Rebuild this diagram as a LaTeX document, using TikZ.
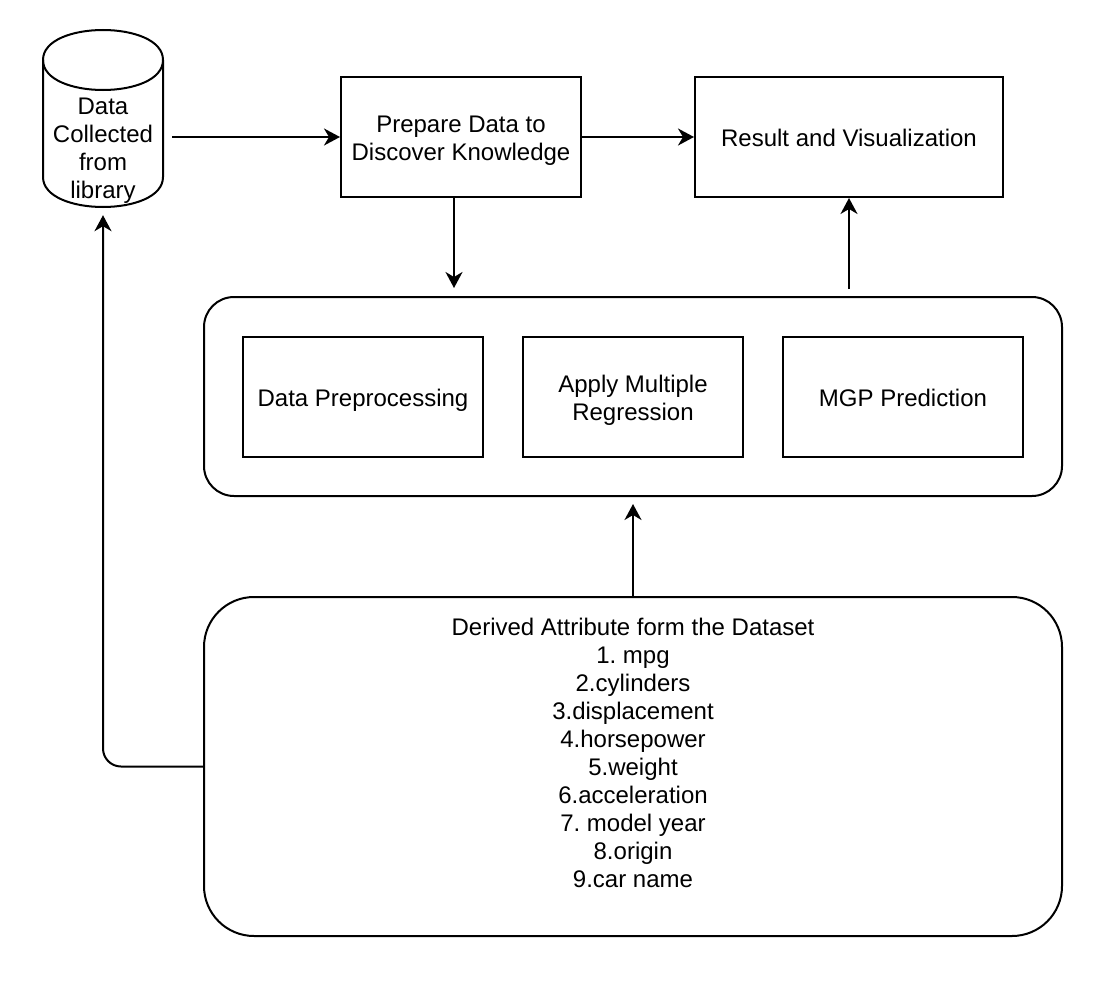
\documentclass[tikz,border=0pt]{standalone}
\usepackage{fontspec}
\setmainfont{Liberation Sans}
\usetikzlibrary{arrows.meta}
\frenchspacing
\newcommand{\zs}{\rule[-6pt]{0pt}{30pt}}
\begin{document}
\begin{tikzpicture}[x=1pt,y=-1pt,
  every node/.style={font={\fontsize{24}{28}\selectfont\lineskiplimit=-100pt\frenchspacing}, align=center, inner sep=0pt},
  box/.style={draw, line width=2pt, minimum width=240pt, minimum height=120pt},
  rbox/.style={draw, line width=2pt, rounded corners=#1},
  arr/.style={line width=2pt, -{Stealth[length=16pt,width=17pt,inset=5pt]}}]
\useasboundingbox (0,0) rectangle (1100,998);

% database cylinder
\node[minimum width=120pt, minimum height=177pt] (db) at (103,118.5) {};
\draw[line width=2pt, line join=round]
  (43,60) .. controls (43,20) and (163,20) .. (163,60)
  -- (163,177) .. controls (163,217) and (43,217) .. (43,177) -- cycle;
\draw[line width=2pt] (43,60) .. controls (43,100) and (163,100) .. (163,60);
\node (dbtext) at (103,147) {\zs Data\\\zs Collected\\\zs from\\\zs library};

% top boxes
\node[box] (prep) at (461,137) {\zs Prepare Data to\\\zs Discover Knowledge};
\node[box, minimum width=308pt] (res) at (849,137) {\zs Result and Visualization};

% container
\node[rbox=30pt, minimum width=858pt, minimum height=199pt] (cont) at (633,396.5) {};
\node[box] (pre) at (363,397) {\zs Data Preprocessing};
\node[box, minimum width=220pt] (reg) at (633,397) {\zs Apply Multiple\\\zs Regression};
\node[box] (mgp) at (903,397) {\zs MGP Prediction};

% attributes
\node[rbox=50pt, minimum width=858pt, minimum height=339pt] (attr) at (633,766.5)
  {\zs Derived Attribute form the Dataset\\\zs 1. mpg\\\zs 2.cylinders\\\zs 3.displacement\\\zs 4.horsepower\\\zs 5.weight\\\zs 6.acceleration\\\zs 7. model year\\\zs 8.origin\\\zs 9.car name\\\zs};

% connectors
\draw[arr] ([xshift=9pt]db.east |- prep.west) -- (prep.west);
\draw[arr] (prep.east) -- (res.west);
\draw[arr] ([xshift=-7pt]prep.south) -- ([xshift=-7pt,yshift=8pt]prep.south |- cont.north);
\draw[arr] ([yshift=7pt]res.south |- cont.north) -- (res.south);
\draw[arr] (attr.north) -- ([yshift=-7pt]cont.south);
\draw[arr, rounded corners=18pt] (attr.west) -| ([yshift=-8pt]db.south);
\end{tikzpicture}
\end{document}
